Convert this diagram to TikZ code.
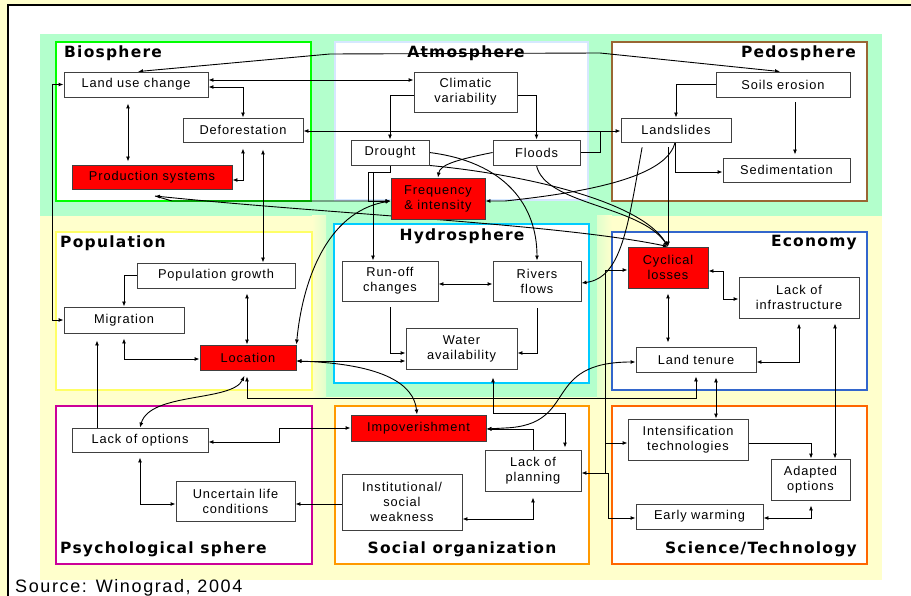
\documentclass[tikz,border=0pt]{standalone}
\usepackage{fontspec}
\setmainfont{Liberation Sans}[LetterSpace=7]
\newfontfamily\titlef{DejaVu Sans}[LetterSpace=8]
\newfontfamily\srcf{Liberation Sans}[LetterSpace=9]
\usetikzlibrary{arrows.meta}
\definecolor{bgy}{HTML}{FFFFCC}
\definecolor{bgg}{HTML}{B3FFCC}
\definecolor{bgm}{HTML}{E0FFCC}
\definecolor{cbio}{HTML}{00FF00}
\definecolor{catm}{HTML}{D6E8FF}
\definecolor{cped}{HTML}{996633}
\definecolor{cpop}{HTML}{FFFF66}
\definecolor{chyd}{HTML}{00CCFF}
\definecolor{ceco}{HTML}{3366CC}
\definecolor{cpsy}{HTML}{CC0099}
\definecolor{csoc}{HTML}{FF9900}
\definecolor{csci}{HTML}{FF6600}
\definecolor{boxline}{HTML}{404040}
\pgfdeclarelayer{bg}\pgfdeclarelayer{ln}\pgfsetlayers{bg,ln,main}
\begin{document}
\begin{tikzpicture}[x=1pt,y=-1pt,
  nbox/.style={draw=boxline, line width=0.9pt, fill=white, inner sep=0pt, align=center,
    font=\fontsize{12.8}{15}\selectfont, text=black},
  rbox/.style={nbox, fill=red},
  sphereframe/.style={line width=2.6pt, fill=white},
  ttl/.style={font=\titlef\fontsize{15.5}{18}\selectfont\bfseries, inner sep=0pt},
  conn/.style={line width=0.9pt, black, >={Latex[length=5pt,width=4pt]}}]
\useasboundingbox (0,0) rectangle (911,596);
\begin{pgfonlayer}{bg}
  \fill[bgy] (0,0) rectangle (911,596);
  \fill[white] (8,5.5) rectangle (911,596);
  \draw[line width=2pt] (8,596) -- (8,5.5) -- (911,5.5);
  \fill[bgg] (40,34) rectangle (882,216);
  \fill[bgy] (40,216) rectangle (882,580);
  \fill[bgg] (326,216) rectangle (597,397);
  \shade[left color=bgy, right color=bgm] (312,216) rectangle (326,397);
  \shade[left color=bgm, right color=bgy] (597,216) rectangle (612,397);
  % sphere frames
  \draw[sphereframe, draw=cbio] (56,42) rectangle (311,201);
  \draw[sphereframe, draw=catm] (335,42) rectangle (588,200);
  \draw[sphereframe, draw=cped] (612,42) rectangle (867,201);
  \draw[sphereframe, draw=cpop] (56,232) rectangle (312,390);
  \draw[sphereframe, draw=chyd] (334,224) rectangle (589,383);
  \draw[sphereframe, draw=ceco] (612,232) rectangle (867,390);
  \draw[sphereframe, draw=cpsy] (56,406) rectangle (312,564);
  \draw[sphereframe, draw=csoc] (335,406) rectangle (589,564);
  \draw[sphereframe, draw=csci] (612,406) rectangle (867,564);
\end{pgfonlayer}

% titles
\node[ttl, anchor=west] (tbio) at (64,53) {Biosphere};
\node[ttl] (tatm) at (466,53) {Atmosphere};
\node[ttl, anchor=east] (tped) at (856,53) {Pedosphere};
\node[ttl, anchor=west] (tpop) at (60,243) {Population};
\node[ttl] (thyd) at (462,236) {Hydrosphere};
\node[ttl, anchor=east] (teco) at (857,243) {Economy};
\node[ttl, anchor=west] (tpsy) at (60,549) {Psychological sphere};
\node[ttl] (tsoc) at (462,549) {Social organization};
\node[ttl, anchor=east] (tsci) at (857,549) {Science/Technology};
\node[font=\srcf\fontsize{18}{20}\selectfont, anchor=base west, inner sep=0pt] (src) at (15,592) {Source: Winograd, 2004};

% nodes
\node[nbox, minimum width=144pt, minimum height=25pt] (luc) at (136,84.5) {Land use change};
\node[nbox, minimum width=120pt, minimum height=24pt] (def) at (243,130) {Deforestation};
\node[rbox, minimum width=160pt, minimum height=24pt] (prod) at (152,177) {Production systems};
\node[nbox, minimum width=103pt, minimum height=40pt] (clim) at (465.5,92) {Climatic\\variability};
\node[nbox, minimum width=78pt, minimum height=25pt] (drought) at (390,152.5) {Drought};
\node[nbox, minimum width=87pt, minimum height=25pt] (floods) at (536.5,152.5) {Floods};
\node[rbox, minimum width=94pt, minimum height=41pt] (freq) at (438,198.5) {Frequency\\\& intensity};
\node[nbox, minimum width=134pt, minimum height=25pt] (soils) at (783,84.5) {Soils erosion};
\node[nbox, minimum width=110pt, minimum height=24pt] (lands) at (676,130) {Landslides};
\node[nbox, minimum width=127pt, minimum height=24pt] (sed) at (786.5,170) {Sedimentation};
\node[nbox, minimum width=158pt, minimum height=25pt] (popg) at (216,275.5) {Population growth};
\node[nbox, minimum width=120pt, minimum height=26pt] (migr) at (124,320) {Migration};
\node[rbox, minimum width=96pt, minimum height=25pt] (loc) at (248,357.5) {Location};
\node[nbox, minimum width=96pt, minimum height=40pt] (runoff) at (390,281) {Run-off\\changes};
\node[nbox, minimum width=88pt, minimum height=40pt] (rivers) at (537,281) {Rivers\\flows};
\node[nbox, minimum width=111pt, minimum height=41pt] (water) at (461.5,348.5) {Water\\availability};
\node[rbox, minimum width=80pt, minimum height=41pt] (cyc) at (668,267.5) {Cyclical\\losses};
\node[nbox, minimum width=120pt, minimum height=41pt] (infra) at (799,297.5) {Lack of\\infrastructure};
\node[nbox, minimum width=120pt, minimum height=25pt] (tenure) at (696,359.5) {Land tenure};
\node[nbox, minimum width=136pt, minimum height=24pt] (opts) at (140,440) {Lack of options};
\node[nbox, minimum width=119pt, minimum height=40pt] (uncert) at (235.5,501) {Uncertain life\\conditions};
\node[rbox, minimum width=135pt, minimum height=26pt] (impov) at (418.5,428) {Impoverishment};
\node[nbox, minimum width=96pt, minimum height=41pt] (plan) at (533,470.5) {Lack of\\planning};
\node[nbox, minimum width=120pt, minimum height=56pt] (inst) at (402,502) {Institutional/\\social\\weakness};
\node[nbox, minimum width=120pt, minimum height=41pt] (intens) at (688,439.5) {Intensification\\technologies};
\node[nbox, minimum width=79pt, minimum height=41pt] (adapt) at (810.5,479.5) {Adapted\\options};
\node[nbox, minimum width=127pt, minimum height=25pt] (early) at (699.5,516.5) {Early warming};

\coordinate (j1) at (600,131);
\coordinate (j2) at (373,172);
\coordinate (pb) at (155,196);
\coordinate (bus1) at (605,270);
\coordinate (bus2) at (605,443);
\coordinate (bus3) at (605,473);

\begin{pgfonlayer}{ln}
% Biosphere / top
\draw[conn,<->] (138,0 |- luc.north) -- (330,54) -- (600,53) -- (780,0 |- soils.north);
\draw[conn,<->] (luc.east |- 0,80) -- (clim.west |- 0,80);
\draw[conn,<->] (luc.east |- 0,87) -| (def.north);
\draw[conn,<->,shorten <=6pt,shorten >=3pt] (128,0 |- luc.south) -- (128,0 |- prod.north);
\draw[conn,<->,shorten >=6pt] (prod.east |- 0,180) -| (def.south);
\draw[conn,<->,shorten <=7pt] (263,0 |- def.south) -- (263,0 |- popg.north);
\draw[conn,<->] (def.east |- 0,131) -- (lands.west |- 0,131);
\draw[conn] (floods.east) -| (j1);
\draw[conn,->] (clim.west |- 0,95) -| (drought.north);
\draw[conn,->] (clim.east |- 0,95) -| (floods.north);
\draw[conn,->] (drought.south) |- (368,172) -- (368,201) -- (freq.west |- 0,201);
\draw[conn,->] (j2) -- (373,0 |- runoff.north);
\draw[conn,->] (pb) -- (172,201) -- (freq.west |- 0,201);
\draw[conn,<->] (pb) .. controls (330,214) and (560,224) .. (cyc.north);
\draw[conn,->] (drought.south east) .. controls (520,174) and (640,200) .. (cyc.north);
\draw[conn,->] (drought.east) .. controls (505,162) and (537,205) .. (rivers.north);
\draw[conn,->] (floods.west) .. controls (455,160) and (440,165) .. (freq.north);
\draw[conn,->] (floods.south) .. controls (545,205) and (640,205) .. (cyc.north);
\draw[conn,->] (675,0 |- lands.south) .. controls (668,172) and (610,190) .. (505,201) -- (freq.east |- 0,201);
\draw[conn,->] (675,0 |- lands.south) |- (sed.west |- 0,172);
\draw[conn,->] (soils.west) -| (lands.north);
\draw[conn,->,shorten <=5pt,shorten >=3pt] (795,0 |- soils.south) -- (795,0 |- sed.north);
\draw[conn,->,shorten <=5pt] (668,0 |- lands.south) -- (cyc.north);
\draw[conn,->,shorten <=5pt] (643,0 |- lands.south) .. controls (628,225) and (622,278) .. (rivers.east |- 0,283);
% Population
\draw[conn,<->,shorten <=5pt] (247,0 |- popg.south) -- (247,0 |- loc.north);
\draw[conn,->] (popg.west) -| (migr.north);
\draw[conn,<->] (luc.west) -- ++(-11,0) |- (migr.west);
\draw[conn,<->,shorten <=5pt] (124,0 |- migr.south) |- (loc.west |- 0,359);
\draw[conn,->,shorten >=7pt] (97,0 |- opts.north) -- (97,0 |- migr.south);
\draw[conn,<->] (loc.north east) .. controls (302,285) and (325,212) .. (freq.west |- 0,201);
\draw[conn,<->] (loc.east |- 0,361) -- (water.west |- 0,361);
\draw[conn,<->] (loc.east |- 0,361) .. controls (385,364) and (414,385) .. (417,0 |- impov.north);
% Hydrosphere
\draw[conn,->,shorten <=6pt] (runoff.south) |- (water.west |- 0,353);
\draw[conn,->,shorten <=7pt] (rivers.south) |- (water.east |- 0,353);
\draw[conn,<->] (runoff.east |- 0,284) -- (rivers.west |- 0,284);
% long links
\draw[conn,<->,shorten <=6pt,shorten >=4pt] (247,0 |- loc.south) |- (696,398) -- (696,0 |- tenure.south);
\draw[conn,<->,shorten <=6pt] (247,0 |- loc.south) .. controls (232,402) and (150,392) .. (140,0 |- opts.north);
% Psychological / social
\draw[conn,<->] (opts.east |- 0,442) -- (279,442) |- (impov.west);
\draw[conn,<->,shorten <=5pt] (140,0 |- opts.south) |- (uncert.west |- 0,504);
\draw[conn,->] (inst.west |- 0,504) -- (uncert.east |- 0,504);
\draw[conn,<->,shorten >=6pt] (inst.east |- 0,519) -| (plan.south);
\draw[conn,<->,shorten <=8pt,shorten >=2pt] (493,0 |- water.south) |- (565,413) -- (565,0 |- plan.north);
\draw[conn,->] (533,0 |- plan.north) |- (impov.east |- 0,429);
\draw[conn,<->] (impov.east |- 0,429) -- (505,428) .. controls (580,425) and (540,362) .. (tenure.west |- 0,362);
% Economy / science
\draw[conn,<->] (cyc.west |- 0,270) -- (bus1) -- (bus3) -- (plan.east |- 0,473);
\draw[conn,->] (bus2) -- (intens.west |- 0,443);
\draw[conn,->] (bus3) -- (608,473) |- (early.west |- 0,518);
\draw[conn,<->,shorten <=5pt,shorten >=4pt] (cyc.south) -- (668,0 |- tenure.north);
\draw[conn,<->] (cyc.east |- 0,271) -- (723,271) |- (infra.west |- 0,299);
\draw[conn,<->,shorten >=5pt] (tenure.east |- 0,362) -| (799,0 |- infra.south);
\draw[conn,<->,shorten <=5pt] (716,0 |- tenure.south) -- (716,0 |- intens.north);
\draw[conn,<->,shorten <=5pt] (835,0 |- infra.south) -- (835,0 |- adapt.north);
\draw[conn,->] (intens.east |- 0,443) -| (811,0 |- adapt.north);
\draw[conn,<->,shorten >=5pt] (early.east |- 0,518) -| (811,0 |- adapt.south);
\end{pgfonlayer}
\end{tikzpicture}
\end{document}
